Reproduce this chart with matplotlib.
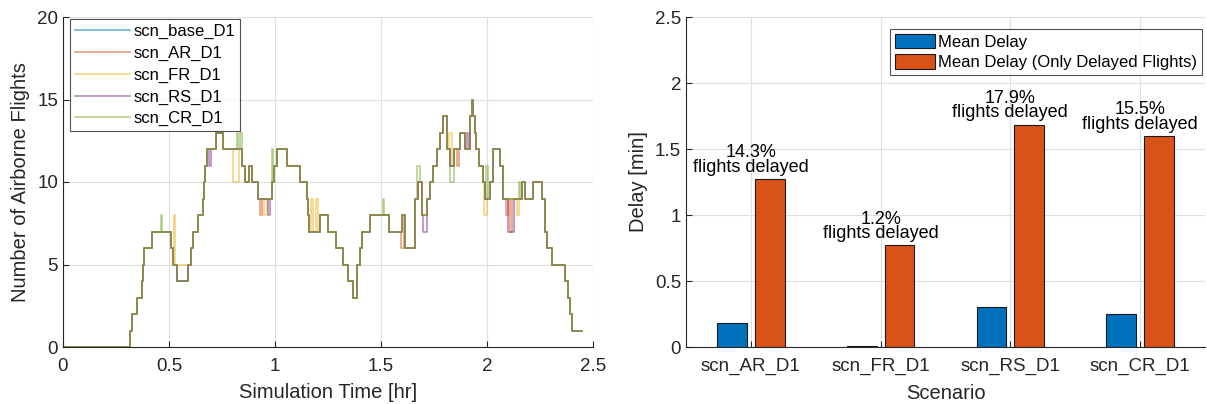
import bisect

import matplotlib
matplotlib.use("Agg")
import matplotlib.pyplot as plt

plt.rcParams["font.family"] = ["Liberation Sans", "DejaVu Sans"]

# ---------- left panel: airborne flights (step data) ----------
BASE_T = [0.000, 0.316, 0.327, 0.348, 0.371, 0.377, 0.380, 0.421, 0.509, 0.520,
          0.536, 0.591, 0.602, 0.612, 0.635, 0.662, 0.667, 0.672, 0.681, 0.722,
          0.756, 0.843, 0.858, 0.875, 0.890, 0.921, 0.984, 0.995, 1.011, 1.055,
          1.118, 1.149, 1.157, 1.160, 1.212, 1.252, 1.288, 1.319, 1.346, 1.366,
          1.385, 1.401, 1.409, 1.448, 1.539, 1.565, 1.598, 1.614, 1.660, 1.676,
          1.692, 1.716, 1.731, 1.747, 1.762, 1.778, 1.794, 1.810, 1.825, 1.844,
          1.873, 1.896, 1.920, 1.928, 1.936, 1.942, 1.948, 1.964, 1.980, 1.991,
          2.014, 2.030, 2.061, 2.074, 2.164, 2.179, 2.218, 2.258, 2.273, 2.281,
          2.305, 2.368, 2.384, 2.391, 2.399, 2.447]
BASE_V = [0, 1, 2, 3, 4, 5, 6, 7, 6, 5,
          4, 5, 6, 7, 8, 9, 10, 11, 12, 13,
          12, 11, 10, 11, 10, 9, 10, 11, 12, 11,
          10, 9, 8, 7, 8, 7, 6, 5, 4, 3,
          5, 6, 7, 8, 7, 7, 8, 6, 9, 10,
          8, 9, 10, 11, 12, 13, 14, 12, 11, 12,
          13, 12, 14, 15, 14, 13, 12, 11, 10, 9,
          10, 12, 11, 9, 10, 9, 10, 9, 7, 6,
          5, 4, 3, 2, 1, 1]

# deviations of each scenario from the common trace: (start, end, value)
DEV_BASE = []
DEV_AR = [(0.860, 0.875, 10), (0.930, 0.940, 8), (1.595, 1.610, 6), (1.640, 1.660, 6),
          (1.860, 1.870, 11), (2.088, 2.100, 8), (2.110, 2.120, 7), (2.335, 2.350, 5)]
DEV_FR = [(0.523, 0.530, 8), (0.536, 0.591, 5), (0.800, 0.830, 10), (0.950, 0.960, 8),
          (1.170, 1.180, 9), (1.195, 1.205, 9), (1.820, 1.835, 13), (1.985, 2.000, 8),
          (2.140, 2.150, 8), (1.500, 1.510, 8)]
DEV_RS = [(0.690, 0.700, 11), (0.965, 0.975, 8), (1.700, 1.716, 7), (2.040, 2.060, 12),
          (2.100, 2.125, 7), (2.330, 2.368, 5), (1.905, 1.915, 13), (0.745, 0.756, 13)]
DEV_CR = [(0.462, 0.468, 8), (0.536, 0.591, 4), (0.820, 0.826, 13), (0.836, 0.842, 13),
          (0.985, 0.992, 12), (1.511, 1.516, 9), (1.670, 1.685, 11), (1.995, 2.003, 11),
          (1.825, 1.844, 10), (2.150, 2.158, 10), (2.240, 2.258, 10)]

SCENARIOS = ["scn_base_D1", "scn_AR_D1", "scn_FR_D1", "scn_RS_D1", "scn_CR_D1"]
LINE_COLORS = ["#0072BD", "#D95319", "#EDB120", "#7E2F8E", "#77AC30"]

# ---------- right panel: delays ----------
BAR_SCN = ["scn_AR_D1", "scn_FR_D1", "scn_RS_D1", "scn_CR_D1"]
MEAN_DELAY = [0.182, 0.010, 0.303, 0.250]
MEAN_DELAY_DELAYED = [1.273, 0.770, 1.684, 1.598]
PCT_DELAYED = [14.3, 1.2, 17.9, 15.5]


def scenario_trace(devs):
    """Common trace with the scenario's own deviations laid over it."""
    ts = sorted(set(BASE_T) | {a for a, _, _ in devs} | {b for _, b, _ in devs})
    vs = [BASE_V[bisect.bisect_right(BASE_T, t) - 1] for t in ts]
    for a, b, val in devs:
        for i, t in enumerate(ts):
            if a <= t < b:
                vs[i] = val
    return ts, vs


def style_axes(ax):
    ax.grid(True, color="#dfdfdf", linewidth=0.8)
    ax.set_axisbelow(True)
    for s in ("top", "right"):
        ax.spines[s].set_visible(False)
    for s in ("left", "bottom"):
        ax.spines[s].set_color("#262626")
        ax.spines[s].set_linewidth(0.8)
    ax.tick_params(direction="in", length=4, colors="#262626", labelsize=13.5, width=0.8)
    ax.tick_params(axis="x", pad=8)


fig = plt.figure(figsize=(12.07, 4.04), dpi=100)
ax1 = fig.add_axes([63 / 1207, 57 / 404, 530 / 1207, 330 / 404])
ax2 = fig.add_axes([686 / 1207, 57 / 404, 519 / 1207, 330 / 404])

for name, color, devs in zip(SCENARIOS, LINE_COLORS,
                             [DEV_BASE, DEV_AR, DEV_FR, DEV_RS, DEV_CR]):
    ts, vs = scenario_trace(devs)
    ax1.step(ts, vs, where="post", color=color, lw=1.1, alpha=0.6, label=name)

ax1.set_xlim(0, 2.5)
ax1.set_ylim(0, 20)
ax1.set_xticks([0, 0.5, 1, 1.5, 2, 2.5])
ax1.set_xticklabels(["0", "0.5", "1", "1.5", "2", "2.5"])
ax1.set_yticks([0, 5, 10, 15, 20])
style_axes(ax1)
ax1.set_xlabel("Simulation Time [hr]", fontsize=14.5, color="#262626", labelpad=6)
ax1.set_ylabel("Number of Airborne Flights", fontsize=14.5, color="#262626", labelpad=5)
leg1 = ax1.legend(loc="upper left", bbox_to_anchor=(0.013, 0.994), fontsize=12,
                  frameon=True, fancybox=False, handlelength=3.3, handletextpad=0.2,
                  labelspacing=0.4, borderpad=0.3, borderaxespad=0.0)
leg1.get_frame().set_edgecolor("#262626")
leg1.get_frame().set_linewidth(0.8)

x = list(range(1, len(BAR_SCN) + 1))
w = 0.23
ax2.bar([i - 0.145 for i in x], MEAN_DELAY, width=w, color="#0072BD",
        edgecolor="#1a1a1a", linewidth=0.8, label="Mean Delay")
ax2.bar([i + 0.145 for i in x], MEAN_DELAY_DELAYED, width=w, color="#D95319",
        edgecolor="#1a1a1a", linewidth=0.8, label="Mean Delay (Only Delayed Flights)")
for i, top, pct in zip(x, MEAN_DELAY_DELAYED, PCT_DELAYED):
    ax2.text(i, top + 0.025, f"{pct}%\nflights delayed", ha="center", va="bottom",
             fontsize=13, linespacing=0.8, color="black")

ax2.set_xlim(0.5, 4.5)
ax2.set_ylim(0, 2.5)
ax2.set_xticks(x)
ax2.set_xticklabels(BAR_SCN)
ax2.set_yticks([0, 0.5, 1, 1.5, 2, 2.5])
ax2.set_yticklabels(["0", "0.5", "1", "1.5", "2", "2.5"])
style_axes(ax2)
ax2.set_xlabel("Scenario", fontsize=14.5, color="#262626", labelpad=6)
ax2.set_ylabel("Delay [min]", fontsize=14.5, color="#262626", labelpad=5)
leg2 = ax2.legend(loc="upper right", bbox_to_anchor=(0.995, 0.965), fontsize=12,
                  frameon=True, fancybox=False, handlelength=2.4, handleheight=1.0,
                  handletextpad=0.2, labelspacing=0.25, borderpad=0.3, borderaxespad=0.0)
leg2.get_frame().set_edgecolor("#262626")
leg2.get_frame().set_linewidth(0.8)

fig.savefig("out.png", dpi=100)
